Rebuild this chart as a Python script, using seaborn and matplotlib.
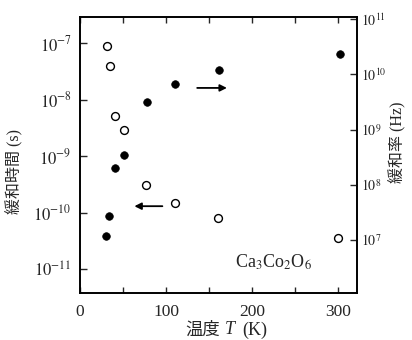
import math
import pandas as pd
import matplotlib
matplotlib.use("Agg")
import matplotlib.pyplot as plt
import matplotlib.ticker as mtick
import seaborn as sns

# relaxation time (open circles, left axis)
temp_open = [31, 35, 41, 51, 77, 110, 161, 300]
tau_open = [8.9e-8, 3.9e-8, 5.1e-9, 2.9e-9, 3.1e-10, 1.5e-10, 8.1e-11, 3.6e-11]

# relaxation rate (filled circles, right axis)
temp_filled = [30, 34, 41, 51, 78, 111, 162, 302]
rate_filled = [1.2e7, 2.7e7, 2.0e8, 3.5e8, 3.2e9, 6.6e9, 1.2e10, 2.3e10]

x_ticks = [0, 100, 200, 300]
left_decades = [-11, -10, -9, -8, -7]
right_decades = [6, 7, 8, 9, 10, 11]

sns.set_style("ticks")
plt.rcParams["font.family"] = ["Liberation Serif", "Noto Sans CJK JP"]
plt.rcParams["mathtext.fontset"] = "stix"

df_open = pd.DataFrame({"T": temp_open, "tau": tau_open})
df_filled = pd.DataFrame({"T": temp_filled, "rate": rate_filled})

fig = plt.figure(figsize=(4.12, 3.40), dpi=100)
ax = fig.add_axes([80 / 412, 47 / 340, 277 / 412, 276 / 340])
ax2 = ax.twinx()

sns.scatterplot(data=df_open, x="T", y="tau", ax=ax, marker="o", s=32,
                color="white", edgecolor="black", linewidth=1.0, zorder=3)
sns.scatterplot(data=df_filled, x="T", y="rate", ax=ax2, marker="o", s=30,
                color="black", edgecolor="black", linewidth=0.5, zorder=3)

ax.set_yscale("log")
ax2.set_yscale("log")
ax.set_xlim(0, 322)
ax.set_ylim(10 ** -11.42, 10 ** -6.54)
ax2.set_ylim(10 ** 6.04, 10 ** 11.04)

fmt = mtick.FuncFormatter(lambda v, p: r"$10^{%d}$" % round(math.log10(v)))
ax.yaxis.set_major_locator(mtick.FixedLocator([10.0 ** d for d in left_decades]))
ax.yaxis.set_minor_locator(mtick.NullLocator())
ax.yaxis.set_major_formatter(fmt)
ax2.yaxis.set_major_locator(mtick.FixedLocator([10.0 ** d for d in right_decades]))
ax2.yaxis.set_minor_locator(mtick.NullLocator())
ax2.yaxis.set_major_formatter(fmt)

ax.set_xticks(x_ticks)
ax.xaxis.set_minor_locator(mtick.MultipleLocator(50))

ax.tick_params(axis="x", which="both", direction="in", top=True, length=4,
               width=1, labelsize=12.5, pad=8)
ax.tick_params(axis="y", which="both", direction="in", length=5, width=1,
               labelsize=12, pad=6)
ax2.tick_params(axis="y", which="both", direction="in", length=5, width=1,
                labelsize=10, pad=3)

for a in (ax, ax2):
    for s in a.spines.values():
        s.set_linewidth(1.2)
        s.set_color("black")

ax.set_xlabel("")
ax.set_ylabel("")
ax2.set_ylabel("")

# axis labels
fig.text(15 / 412, 1 - 172 / 340, "緩和時間 (s)", rotation=90, ha="center",
         va="center", fontsize=11.5)
fig.text(398 / 412, 1 - 142 / 340, "緩和率 (Hz)", rotation=90, ha="center",
         va="center", fontsize=11.5)
fig.text(185 / 412, 1 - 331 / 340, "温度", ha="left", va="center", fontsize=12.5)
fig.text(225 / 412, 1 - 330 / 340, "T", ha="left", va="center", fontsize=13,
         fontstyle="italic")
fig.text(242 / 412, 1 - 330 / 340, "(K)", ha="left", va="center", fontsize=13)

ax.text(0.697, 0.11, r"Ca$_3$Co$_2$O$_6$", transform=ax.transAxes,
        ha="center", va="center", fontsize=13)

# arrows pointing to the axis each series belongs to
ax.annotate("", xy=(60, 10 ** -9.885), xytext=(99, 10 ** -9.885),
            arrowprops=dict(arrowstyle="-|>", color="black", lw=1.3,
                            mutation_scale=10))
ax2.annotate("", xy=(174, 10 ** 9.755), xytext=(133, 10 ** 9.755),
             arrowprops=dict(arrowstyle="-|>", color="black", lw=1.3,
                             mutation_scale=10))

fig.savefig("out.png", dpi=100)
